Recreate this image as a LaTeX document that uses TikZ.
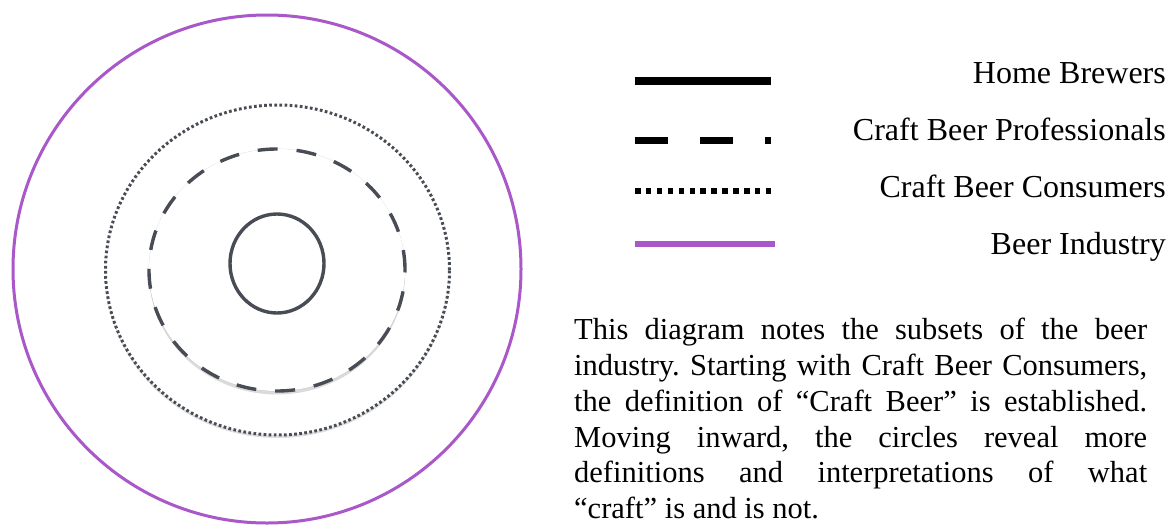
\documentclass[tikz,border=0pt]{standalone}
\usepackage{xcolor}
\usepackage{fontspec}
\setmainfont{Liberation Serif}
\usepackage{tikz}
\usetikzlibrary{shapes.geometric, shadows}

\definecolor{ringgray}{HTML}{484C54}
\definecolor{industrypurple}{HTML}{A957C9}

\begin{document}
\frenchspacing
\begin{tikzpicture}[
  x=1pt, y=-1pt,
  ring/.style={ellipse, inner sep=0pt, outer sep=0pt, draw=ringgray, line width=3.4pt},
  homering/.style={ring},
  proring/.style={ring, fill=white, dash pattern=on 20pt off 19pt,
                  preaction={draw=black!12, line width=0.8pt, solid},
                  drop shadow={opacity=0.28, shadow xshift=0pt, shadow yshift=-3.5pt}},
  consumerring/.style={ring, fill=white, line width=3pt, dash pattern=on 2.7pt off 2.4pt,
                  drop shadow={opacity=0.25, shadow xshift=0pt, shadow yshift=-3pt}},
  industryring/.style={ring, draw=industrypurple, line width=3pt},
  keyline/.style={line width=8.5pt, draw=black},
  keylabel/.style={anchor=base east, inner sep=0pt, font=\fontsize{32}{38}\selectfont},
  blurb/.style={anchor=north west, inner sep=0pt, text width=573pt, align=justify,
                font=\fontsize{30.5}{35.8}\selectfont}
]
\useasboundingbox (0,0) rectangle (1170,525);

\node[industryring, minimum width=508pt, minimum height=508pt] (industry) at (267,269) {};
\node[consumerring, minimum width=344pt, minimum height=330pt] (consumers) at (277.5,270) {};
\node[proring, minimum width=256pt, minimum height=242pt] (pros) at (277,270) {};
\node[homering, minimum width=94pt, minimum height=99pt] (home) at (277,263.5) {};

\coordinate (homeA) at (635,81);     \coordinate (homeB) at (771,81);
\coordinate (proA) at (635,140);     \coordinate (proB) at (771,140);
\coordinate (conA) at (635,191);     \coordinate (conB) at (771,191);
\coordinate (indA) at (635,243.5);   \coordinate (indB) at (775,243.5);

\draw[keyline] (homeA) -- (homeB);
\draw[keyline, line width=7pt, dash pattern=on 33pt off 32pt] (proA) -- (proB);
\draw[keyline, line width=6pt, dash pattern=on 5.5pt off 5.4pt] (conA) -- (conB);
\draw[keyline, line width=6pt, draw=industrypurple] (indA) -- (indB);

\node[keylabel] (homelabel) at (1166,83) {Home Brewers};
\node[keylabel] (prolabel) at (1166,140) {Craft Beer Professionals};
\node[keylabel] (conlabel) at (1166,197) {Craft Beer Consumers};
\node[keylabel] (indlabel) at (1166,254) {Beer Industry};

\node[blurb] (note) at (574,318) {This diagram notes the subsets of the beer\linebreak
  industry. Starting with Craft Beer Consumers,\linebreak
  the definition of “Craft Beer” is established.\linebreak
  Moving inward, the circles reveal more\linebreak
  definitions and interpretations of what\linebreak
  “craft” is and is not.};

\end{tikzpicture}
\end{document}
